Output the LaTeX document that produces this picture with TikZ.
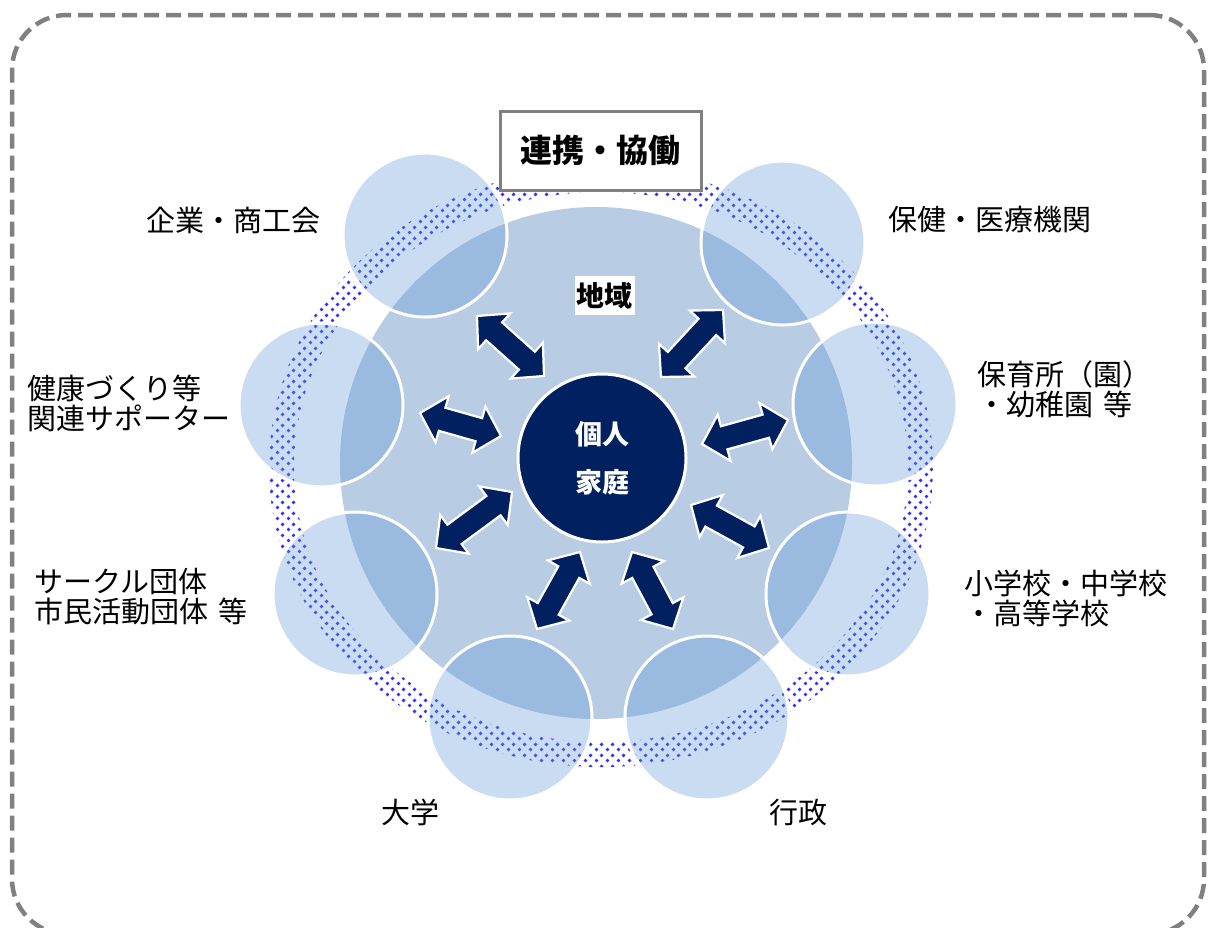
\documentclass[tikz,border=0pt]{standalone}
\usepackage{fontspec}
\setmainfont{Noto Sans CJK JP}
\usetikzlibrary{calc,patterns.meta}
\definecolor{navy}{HTML}{002060}
\definecolor{regionblue}{HTML}{B8CCE4}
\definecolor{smallblue}{RGB}{100,155,214}
\definecolor{dotblue}{RGB}{50,50,245}
\definecolor{framegray}{HTML}{808080}
\tikzdeclarepattern{
  name=bluedots,
  type=uncolored,
  bottom left={(0pt,0pt)},
  top right={(11pt,11pt)},
  tile size={(11pt,11pt)},
  code={
    \fill (2.75pt,2.75pt) circle [radius=2.1pt];
    \fill (8.25pt,8.25pt) circle [radius=2.1pt];
  }
}
\newcommand\dblarrow[2]{%
  \path let \p1=($(#2)-(#1)$) in \pgfextra{%
    \pgfmathsetmacro\arrLen{veclen(\x1,\y1)}%
    \pgfmathsetmacro\arrAng{atan2(\y1,\x1)}%
    \global\let\gArrLen\arrLen
    \global\let\gArrAng\arrAng};
  \draw[arr, shift={(#1)}, rotate=\gArrAng, x=1pt, y=1pt]
    (0,0) -- (23,24) -- (23,12) -- (\gArrLen-23,12) -- (\gArrLen-23,24) -- (\gArrLen,0)
    -- (\gArrLen-23,-24) -- (\gArrLen-23,-12) -- (23,-12) -- (23,-24) -- cycle;
}
\begin{document}
\begin{tikzpicture}[x=1pt,y=-1pt,
  frame/.style={draw=framegray, line width=4.5pt, dash pattern=on 15pt off 7pt, rounded corners=55pt, minimum width=1192pt, minimum height=919pt, inner sep=0pt},
  region/.style={circle, fill=regionblue, minimum size=512pt, inner sep=0pt},
  org/.style={circle, fill=smallblue, fill opacity=0.35, draw=white, line width=3pt, minimum size=164pt, inner sep=0pt},
  core/.style={circle, fill=navy, draw=white, line width=3pt, minimum size=168pt, inner sep=0pt, text=white, font=\bfseries\fontsize{27}{48}\selectfont, align=center},
  titlebox/.style={draw=framegray, line width=3pt, fill=white, minimum width=201pt, minimum height=79pt, inner sep=0pt, font=\bfseries\fontsize{32}{36}\selectfont},
  arealabel/.style={fill=white, inner xsep=2pt, inner ysep=6pt, font=\bfseries\fontsize{28}{30}\selectfont},
  lab/.style={font=\fontsize{29}{30}\selectfont, inner sep=0pt, align=left},
  arr/.style={fill=navy, draw=white, line width=2.2pt, line join=miter}
]
\useasboundingbox (0,0) rectangle (1217,927);
% outer dashed frame
\node[frame] (frame) at (608,474.5) {};
% dotted ring
\fill[pattern=bluedots, pattern color=dotblue, even odd rule]
  (601,467) ellipse [x radius=332, y radius=300]
  (601,467) ellipse [x radius=307, y radius=275];
% region circle
\node[region] (region) at (596,463) {};
% organisation circles
\node[org] (c1) at (425,235) {};
\node[org] (c2) at (783,243) {};
\node[org] (c3) at (875,404) {};
\node[org] (c4) at (848,594) {};
\node[org] (c5) at (707,718) {};
\node[org] (c6) at (510,718) {};
\node[org] (c7) at (355,594) {};
\node[org] (c8) at (321,405) {};
% title
\node[titlebox] (title) at (600.5,150.5) {連携・協働};
\node[arealabel] (area) at (604.5,295.5) {地域};
% arrows
\coordinate (a1s) at (477,316); \coordinate (a1e) at (544,376);
\coordinate (a2s) at (723,310); \coordinate (a2e) at (661,377);
\coordinate (a3s) at (788,420); \coordinate (a3e) at (702,444);
\coordinate (a4s) at (769,548); \coordinate (a4e) at (691,505);
\coordinate (a5s) at (673,629); \coordinate (a5e) at (632,552);
\coordinate (a6s) at (537,629); \coordinate (a6e) at (580,552);
\coordinate (a7s) at (436,548); \coordinate (a7e) at (512,492);
\coordinate (a8s) at (420,413); \coordinate (a8e) at (501,436);
\dblarrow{a1s}{a1e}
\dblarrow{a2s}{a2e}
\dblarrow{a3s}{a3e}
\dblarrow{a4s}{a4e}
\dblarrow{a5s}{a5e}
\dblarrow{a6s}{a6e}
\dblarrow{a7s}{a7e}
\dblarrow{a8s}{a8e}
% centre
\node[core] (ctr) at (602,458) {個人\\家庭};
% labels
\node[lab, anchor=center] (l1) at (233,220) {企業・商工会};
\node[lab, anchor=center] (l2) at (990,220) {保健・医療機関};
\node[lab, anchor=west] (l3) at (977,389) {保育所（園）\\・幼稚園\hspace{10pt}等};
\node[lab, anchor=west] (l4) at (964,598) {小学校・中学校\\・高等学校};
\node[lab, anchor=west] (l8) at (27,403) {健康づくり等\\関連サポーター};
\node[lab, anchor=west] (l7) at (34,597) {サークル団体\\市民活動団体\hspace{10pt}等};
\node[lab, anchor=center] (l6) at (410,812) {大学};
\node[lab, anchor=center] (l5) at (798,812) {行政};
\end{tikzpicture}
\end{document}
